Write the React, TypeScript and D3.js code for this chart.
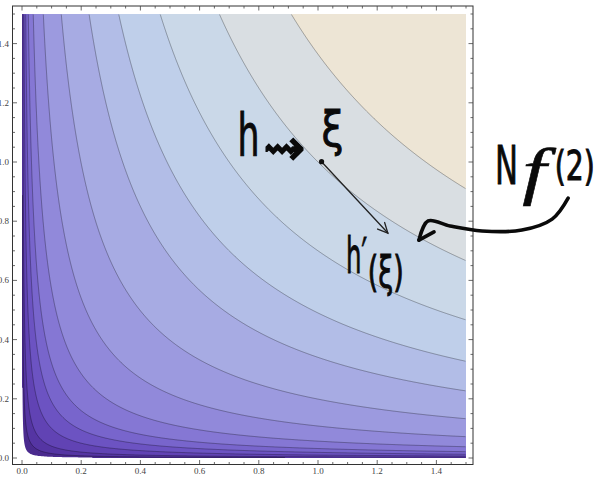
import * as d3 from "d3";

// contour levels of f(x, y) = x * y; the first one is the edge of the clipped white corner
const levels = [0.0004, 0.0015, 0.004, 0.01, 0.019, 0.032, 0.057, 0.108, 0.199, 0.34, 0.49, 0.7, 1.0, 1.364];
const bandColors = [
  "#4a2a8e", "#5535a3", "#6143b4", "#6c53c2", "#7865cc", "#8577d4", "#9189da",
  "#9c9adf", "#a7abe3", "#b2bde7", "#bfcfea", "#cad8e8", "#d9dee2", "#ede5d5",
];
const tickValues = [0, 0.2, 0.4, 0.6, 0.8, 1.0, 1.2, 1.4];
const tickLabels = ["0.0", "0.2", "0.4", "0.6", "0.8", "1.0", "1.2", "1.4"];

// hand-written notes, anchored in plot coordinates
const notes = [
  { label: "h", x: 0.728, y: 1.02, size: 58, len: 22, weight: 1 },
  { label: "⇝", x: 0.815, y: 0.99, size: 50, len: 42, weight: 1.4 },
  { label: "ξ", x: 1.012, y: 1.054, size: 48, len: 22, weight: 1 },
  { label: "h′", x: 1.095, y: 0.625, size: 50, len: 21, weight: 1 },
  { label: "(ξ)", x: 1.168, y: 0.578, size: 42, len: 36, weight: 1 },
  { label: "N", x: 1.598, y: 0.926, size: 54, len: 23, weight: 1 },
  { label: "f", x: 1.69, y: 0.899, size: 64, len: 24, weight: 0.5, serif: true },
  { label: "(2)", x: 1.8, y: 0.939, size: 40, len: 40, weight: 1 },
];
const point: [number, number] = [1.012, 1.001];
const tangentTip: [number, number] = [1.236, 0.76];
const pointerPath: [number, number][] = [
  [1.845, 0.878], [1.791, 0.807], [1.689, 0.77], [1.554, 0.767],
  [1.446, 0.784], [1.372, 0.801], [1.341, 0.736],
];
const pointerBarb: [number, number] = [1.392, 0.764];

export default function App() {
  const width = 613;
  const height = 477;
  const plot = { left: 22, right: 466, top: 14, bottom: 458 };
  const frame = { left: 12.5, right: 473, top: 6, bottom: 464.5 };

  const x = d3.scaleLinear().domain([0, 1.5]).range([plot.left, plot.right]);
  const y = d3.scaleLinear().domain([0, 1.5]).range([plot.bottom, plot.top]);

  // sample the surface, one cell per pixel
  const n = 444;
  const cell = 1.5 / n;
  const grid: number[] = new Array(n * n);
  for (let j = 0; j < n; j++)
    for (let i = 0; i < n; i++) grid[j * n + i] = (i + 0.5) * cell * ((j + 0.5) * cell);

  const bands = d3.contours().size([n, n]).thresholds(levels)(grid);

  const toScreen = d3.geoTransform({
    point(px: number, py: number) {
      // @ts-ignore
      this.stream.point(x(px * cell), y(py * cell));
    },
  });
  const area = d3.geoPath(toScreen);

  const inside = (p: number[]) => p[0] > 0 && p[0] < n && p[1] > 0 && p[1] < n;
  const contourLine = d3
    .line<number[]>()
    .defined(inside)
    .x((p) => x(p[0] * cell))
    .y((p) => y(p[1] * cell));

  const linePaths = bands.slice(1).map((b) =>
    b.coordinates.flatMap((poly) => poly.map((ring) => contourLine(ring as number[][]) ?? "")).join("")
  );

  const minor = x.ticks(30);
  const isMajor = (v: number) => tickValues.some((t) => Math.abs(t - v) < 1e-6);

  const pen = d3
    .line<[number, number]>()
    .x((d) => x(d[0]))
    .y((d) => y(d[1]))
    .curve(d3.curveCatmullRom);

  // arrowhead of the tangent
  const tx = x(tangentTip[0]);
  const ty = y(tangentTip[1]);
  const ang = Math.atan2(ty - y(point[1]), tx - x(point[0]));
  const head = [ang + Math.PI - 0.45, ang + Math.PI + 0.45].map((a) => [tx + 11 * Math.cos(a), ty + 11 * Math.sin(a)]);

  return (
    <svg
      width={width}
      height={height}
      style={{ position: "absolute", left: 0, top: 0, background: "#fff" }}
    >
      <g>
        {bands.map((b, k) => (
          <path key={k} d={area(b) ?? undefined} fill={bandColors[k]} stroke="none" />
        ))}
      </g>
      <g fill="none" stroke="#000" strokeOpacity={0.38} strokeWidth={0.8}>
        {linePaths.map((d, k) => (
          <path key={k} d={d} />
        ))}
      </g>

      <rect
        x={frame.left}
        y={frame.top}
        width={frame.right - frame.left}
        height={frame.bottom - frame.top}
        fill="none"
        stroke="#333"
        strokeWidth={1}
      />
      <g stroke="#444" strokeWidth={0.8}>
        {minor.map((v) => {
          const len = isMajor(v) ? 4.5 : 2.5;
          const px = x(v);
          const py = y(v);
          return (
            <g key={v}>
              <line x1={px} x2={px} y1={frame.bottom} y2={frame.bottom - len} />
              <line x1={px} x2={px} y1={frame.top} y2={frame.top + len} />
              <line x1={frame.left} x2={frame.left + len} y1={py} y2={py} />
              <line x1={frame.right} x2={frame.right - len} y1={py} y2={py} />
            </g>
          );
        })}
      </g>
      <g fontFamily="Liberation Serif" fontSize={9} fill="#444">
        {tickValues.map((v, k) => (
          <text key={"x" + k} x={x(v)} y={frame.bottom + 9.5} textAnchor="middle">
            {tickLabels[k]}
          </text>
        ))}
        {tickValues.map((v, k) => (
          <text key={"y" + k} x={frame.left - 3.5} y={y(v)} dy="0.33em" textAnchor="end">
            {tickLabels[k]}
          </text>
        ))}
      </g>

      {/* hand-drawn annotation */}
      <g fill="none" stroke="#222" strokeWidth={1.3} strokeLinecap="round">
        <line x1={x(point[0])} y1={y(point[1])} x2={tx} y2={ty} />
        <polyline points={`${head[0][0]},${head[0][1]} ${tx},${ty} ${head[1][0]},${head[1][1]}`} />
      </g>
      <circle cx={x(point[0])} cy={y(point[1])} r={2.6} fill="#111" />
      <g fill="none" stroke="#0a0a0a" strokeWidth={3.6} strokeLinecap="round" strokeLinejoin="round">
        <path d={pen(pointerPath) ?? undefined} />
        <line
          x1={x(pointerPath[pointerPath.length - 1][0])}
          y1={y(pointerPath[pointerPath.length - 1][1])}
          x2={x(pointerBarb[0])}
          y2={y(pointerBarb[1])}
        />
      </g>
      <g fill="#0a0a0a" stroke="#0a0a0a">
        {notes.map((d, k) => (
          <text
            key={k}
            x={x(d.x)}
            y={y(d.y)}
            fontSize={d.size}
            strokeWidth={d.weight}
            fontFamily={d.serif ? "Liberation Serif" : "DejaVu Sans"}
            fontStyle={d.serif ? "italic" : "normal"}
            textLength={d.len}
            lengthAdjust="spacingAndGlyphs"
          >
            {d.label}
          </text>
        ))}
      </g>
    </svg>
  );
}
